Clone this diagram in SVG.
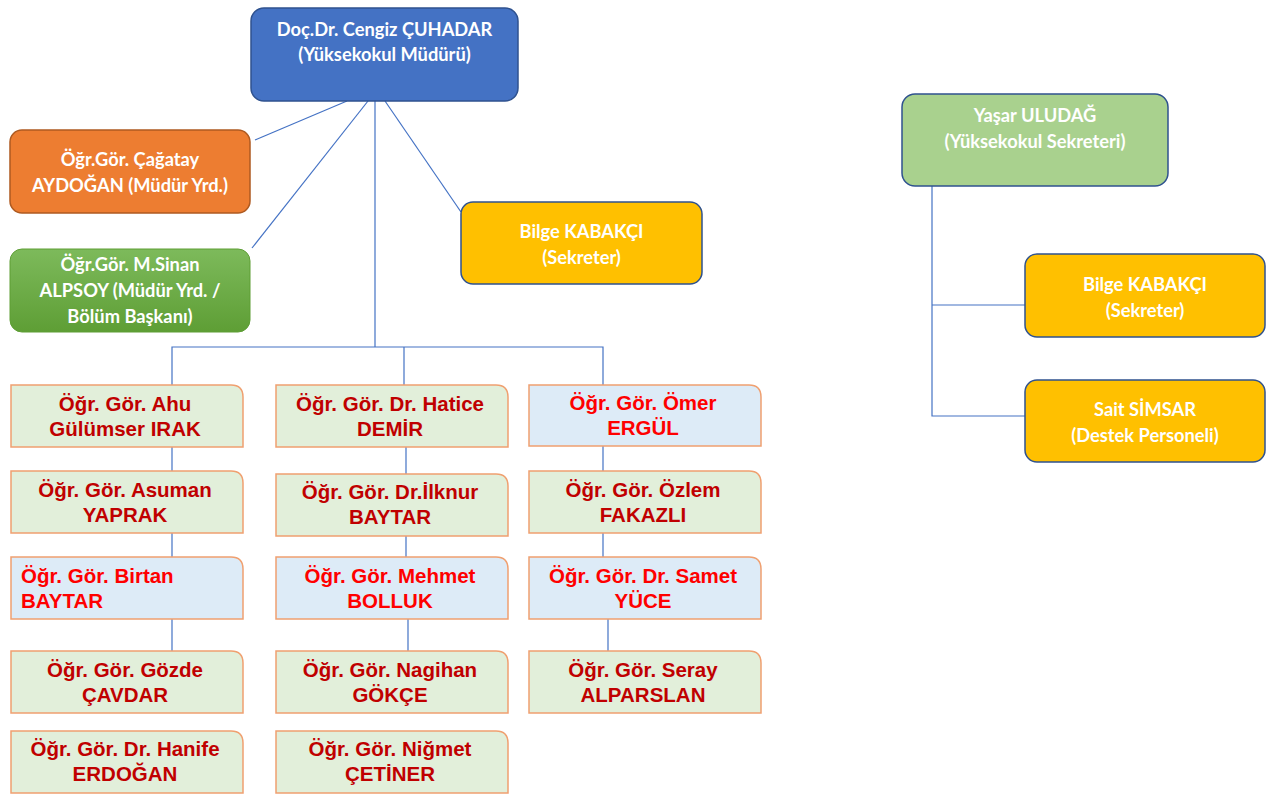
<svg xmlns="http://www.w3.org/2000/svg" width="1271" height="794" viewBox="0 0 1271 794">
<defs>
<linearGradient id="gG" x1="0" y1="0" x2="0" y2="1"><stop offset="0" stop-color="#7DBA5B"/><stop offset="1" stop-color="#5E9E35"/></linearGradient>
<style>
.t{font-family:Lato,"Open Sans","Noto Sans",sans-serif;font-weight:700;font-size:18.3px;fill:#fff;text-anchor:middle}
.p{font-family:"Liberation Sans",Arial,sans-serif;font-weight:700;font-size:20.5px;text-anchor:middle}
.dr{fill:#C00000}
.r{fill:#FF0000}
.bg{fill:#E2EFDA;stroke:#F0A070;stroke-width:1.5}
.bb{fill:#DDEBF7;stroke:#F0A070;stroke-width:1.5}
.c{stroke:#4472C4;stroke-width:1.2;fill:none}
</style>
</defs>
<rect width="1271" height="794" fill="#fff"/>
<g id="connectors">
<line class="c" x1="347" y1="101" x2="255" y2="140"/>
<line class="c" x1="368" y1="101" x2="252" y2="248"/>
<line class="c" x1="375" y1="101" x2="375" y2="347"/>
<line class="c" x1="385" y1="101" x2="461" y2="212"/>
<polyline class="c" points="172,385 172,347 603,347 603,385"/>
<line class="c" x1="404" y1="347" x2="404" y2="385"/>
<line class="c" x1="172" y1="447" x2="172" y2="471"/>
<line class="c" x1="172" y1="533" x2="172" y2="557"/>
<line class="c" x1="172" y1="619" x2="172" y2="651"/>
<line class="c" x1="406" y1="447" x2="406" y2="474"/>
<line class="c" x1="406" y1="536" x2="406" y2="557"/>
<line class="c" x1="408" y1="619" x2="408" y2="651"/>
<line class="c" x1="603" y1="446" x2="603" y2="471"/>
<line class="c" x1="603" y1="533" x2="603" y2="557"/>
<line class="c" x1="608" y1="619" x2="608" y2="651"/>
<polyline class="c" points="932,186 932,416 1025,416"/>
<line class="c" x1="932" y1="305" x2="1025" y2="305"/>
</g>
<g id="n-mudur">
<rect x="251" y="8" width="267" height="93" rx="13" fill="#4472C4" stroke="#2F528F" stroke-width="1.5"/>
<text class="t" x="384.5" y="36">Doç.Dr. Cengiz ÇUHADAR</text>
<text class="t" x="384.5" y="61">(Yüksekokul Müdürü)</text>
</g>
<g id="n-cagatay">
<rect x="10" y="130" width="240" height="83" rx="12" fill="#ED7D31" stroke="#AE5A21" stroke-width="1.5"/>
<text class="t" x="130" y="166">Öğr.Gör. Çağatay</text>
<text class="t" x="130" y="192">AYDOĞAN (Müdür Yrd.)</text>
</g>
<g id="n-sinan">
<rect x="10" y="249" width="240" height="83" rx="12" fill="url(#gG)" stroke="#5E9E35" stroke-width="1"/>
<text class="t" x="130" y="271">Öğr.Gör. M.Sinan</text>
<text class="t" x="130" y="297">ALPSOY (Müdür Yrd. /</text>
<text class="t" x="130" y="323">Bölüm Başkanı)</text>
</g>
<g id="n-bilge1">
<rect x="461" y="202" width="241" height="82" rx="12" fill="#FFC000" stroke="#2F528F" stroke-width="1.5"/>
<text class="t" x="581.5" y="238">Bilge KABAKÇI</text>
<text class="t" x="581.5" y="264">(Sekreter)</text>
</g>
<g id="n-yasar">
<rect x="902" y="94" width="266" height="92" rx="13" fill="#A9D18E" stroke="#2F528F" stroke-width="1.5"/>
<text class="t" x="1035" y="122">Yaşar ULUDAĞ</text>
<text class="t" x="1035" y="148">(Yüksekokul Sekreteri)</text>
</g>
<g id="n-bilge2">
<rect x="1025" y="254" width="240" height="83" rx="12" fill="#FFC000" stroke="#2F528F" stroke-width="1.5"/>
<text class="t" x="1145" y="291">Bilge KABAKÇI</text>
<text class="t" x="1145" y="317">(Sekreter)</text>
</g>
<g id="n-sait">
<rect x="1025" y="380" width="240" height="82" rx="12" fill="#FFC000" stroke="#2F528F" stroke-width="1.5"/>
<text class="t" x="1145" y="416">Sait SİMSAR</text>
<text class="t" x="1145" y="442">(Destek Personeli)</text>
</g>
<g id="n-ahu">
<path class="bg" d="M11,385 H231 Q243,385 243,397 V447 H11 Z"/>
<text class="p dr" x="125" y="411">Öğr. Gör. Ahu</text>
<text class="p dr" x="125" y="436">Gülümser IRAK</text>
</g>
<g id="n-asuman">
<path class="bg" d="M11,471 H231 Q243,471 243,483 V533 H11 Z"/>
<text class="p dr" x="125" y="497">Öğr. Gör. Asuman</text>
<text class="p dr" x="125" y="522">YAPRAK</text>
</g>
<g id="n-birtan">
<path class="bb" d="M11,557 H231 Q243,557 243,569 V619 H11 Z"/>
<text class="p r" x="21" y="583" style="text-anchor:start">Öğr. Gör. Birtan</text>
<text class="p r" x="21" y="608" style="text-anchor:start">BAYTAR</text>
</g>
<g id="n-gozde">
<path class="bg" d="M11,651 H231 Q243,651 243,663 V713 H11 Z"/>
<text class="p dr" x="125" y="677">Öğr. Gör. Gözde</text>
<text class="p dr" x="125" y="702">ÇAVDAR</text>
</g>
<g id="n-hanife">
<path class="bg" d="M11,731 H231 Q243,731 243,743 V793 H11 Z"/>
<text class="p dr" x="125" y="756">Öğr. Gör. Dr. Hanife</text>
<text class="p dr" x="125" y="781">ERDOĞAN</text>
</g>
<g id="n-hatice">
<path class="bg" d="M276,385 H496 Q508,385 508,397 V447 H276 Z"/>
<text class="p dr" x="390" y="411">Öğr. Gör. Dr. Hatice</text>
<text class="p dr" x="390" y="436">DEMİR</text>
</g>
<g id="n-ilknur">
<path class="bg" d="M276,474 H496 Q508,474 508,486 V536 H276 Z"/>
<text class="p dr" x="390" y="499">Öğr. Gör. Dr.İlknur</text>
<text class="p dr" x="390" y="524">BAYTAR</text>
</g>
<g id="n-mehmet">
<path class="bb" d="M276,557 H496 Q508,557 508,569 V619 H276 Z"/>
<text class="p r" x="390" y="583">Öğr. Gör. Mehmet</text>
<text class="p r" x="390" y="608">BOLLUK</text>
</g>
<g id="n-nagihan">
<path class="bg" d="M276,651 H496 Q508,651 508,663 V713 H276 Z"/>
<text class="p dr" x="390" y="677">Öğr. Gör. Nagihan</text>
<text class="p dr" x="390" y="702">GÖKÇE</text>
</g>
<g id="n-nigmet">
<path class="bg" d="M276,731 H496 Q508,731 508,743 V793 H276 Z"/>
<text class="p dr" x="390" y="756">Öğr. Gör. Niğmet</text>
<text class="p dr" x="390" y="781">ÇETİNER</text>
</g>
<g id="n-omer">
<path class="bb" d="M529,385 H749 Q761,385 761,397 V446 H529 Z"/>
<text class="p r" x="643" y="410">Öğr. Gör. Ömer</text>
<text class="p r" x="643" y="435">ERGÜL</text>
</g>
<g id="n-ozlem">
<path class="bg" d="M529,471 H749 Q761,471 761,483 V533 H529 Z"/>
<text class="p dr" x="643" y="497">Öğr. Gör. Özlem</text>
<text class="p dr" x="643" y="522">FAKAZLI</text>
</g>
<g id="n-samet">
<path class="bb" d="M529,557 H749 Q761,557 761,569 V619 H529 Z"/>
<text class="p r" x="643" y="583">Öğr. Gör. Dr. Samet</text>
<text class="p r" x="643" y="608">YÜCE</text>
</g>
<g id="n-seray">
<path class="bg" d="M529,651 H749 Q761,651 761,663 V713 H529 Z"/>
<text class="p dr" x="643" y="677">Öğr. Gör. Seray</text>
<text class="p dr" x="643" y="702">ALPARSLAN</text>
</g>
</svg>
